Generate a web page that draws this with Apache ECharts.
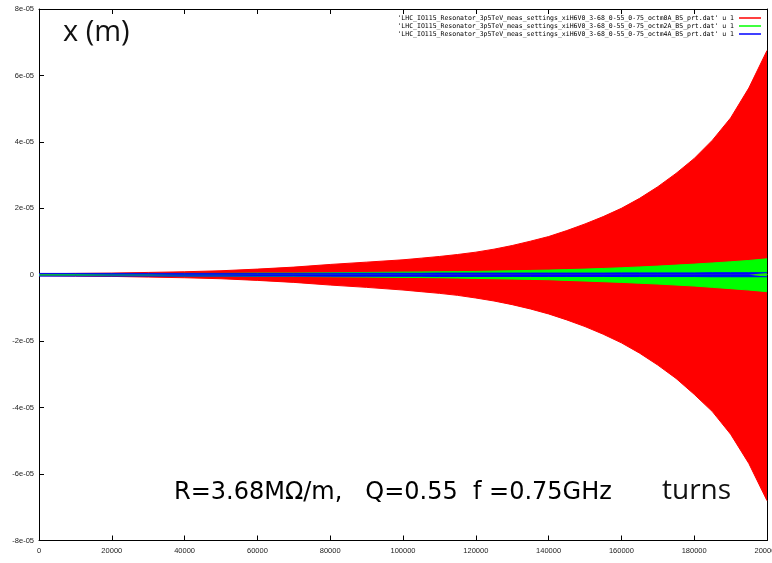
<!DOCTYPE html>
<html>
<head>
<meta charset="utf-8">
<script src="https://cdn.jsdelivr.net/npm/echarts@6/dist/echarts.min.js"></script>
<style>html,body{margin:0;padding:0;background:#fff}#c{width:772px;height:563px}</style>
</head>
<body>
<div id="c"></div>
<script>
// turns (x) and envelope amplitudes in units of 1e-05 m
var turns = [0,10000,20000,30000,40000,50000,60000,70000,80000,90000,100000,105000,110000,115000,120000,125000,130000,135000,140000,145000,150000,155000,160000,165000,170000,175000,180000,185000,190000,195000,200000];
var redUpper  = [0.03,0.04,0.05,0.07,0.09,0.12,0.17,0.23,0.31,0.38,0.45,0.50,0.55,0.61,0.68,0.77,0.88,1.01,1.15,1.33,1.53,1.75,2.0,2.3,2.65,3.05,3.5,4.05,4.72,5.62,6.75];
var redLower  = [-0.03,-0.04,-0.05,-0.07,-0.09,-0.12,-0.17,-0.23,-0.31,-0.38,-0.46,-0.51,-0.56,-0.62,-0.70,-0.79,-0.90,-1.03,-1.18,-1.36,-1.56,-1.79,-2.05,-2.36,-2.72,-3.12,-3.6,-4.12,-4.8,-5.68,-6.8];
var greenUpper = [0.02,0.02,0.03,0.03,0.04,0.04,0.05,0.05,0.06,0.07,0.08,0.085,0.09,0.095,0.10,0.11,0.12,0.13,0.14,0.155,0.17,0.19,0.21,0.235,0.26,0.29,0.32,0.355,0.39,0.43,0.48];
var greenLower = [-0.02,-0.02,-0.03,-0.03,-0.04,-0.04,-0.05,-0.05,-0.06,-0.07,-0.08,-0.085,-0.09,-0.10,-0.11,-0.12,-0.13,-0.14,-0.15,-0.17,-0.19,-0.21,-0.23,-0.255,-0.28,-0.31,-0.34,-0.38,-0.42,-0.46,-0.51];
var blueUpper = [0.04,0.04,0.04,0.04,0.04,0.04,0.04,0.04,0.045,0.045,0.045,0.045,0.05,0.05,0.05,0.05,0.05,0.05,0.05,0.05,0.05,0.05,0.055,0.055,0.055,0.055,0.055,0.06,0.06,0.06,0.06];
var blueLower = [-0.04,-0.04,-0.04,-0.04,-0.04,-0.04,-0.04,-0.04,-0.045,-0.045,-0.045,-0.045,-0.05,-0.05,-0.05,-0.05,-0.05,-0.05,-0.05,-0.05,-0.05,-0.05,-0.055,-0.055,-0.055,-0.055,-0.055,-0.06,-0.06,-0.06,-0.06];
var seriesNames = [
  "'LHC_IO115_Resonator_3p5TeV_meas_settings_xiH6V0_3-68_0-55_0-75_octm0A_BS_prt.dat' u 1",
  "'LHC_IO115_Resonator_3p5TeV_meas_settings_xiH6V0_3-68_0-55_0-75_octm2A_BS_prt.dat' u 1",
  "'LHC_IO115_Resonator_3p5TeV_meas_settings_xiH6V0_3-68_0-55_0-75_octm4A_BS_prt.dat' u 1"
];
var colors = ['#ff0000','#00ff00','#0000ff'];

function pts(arr){ return turns.map(function(t,i){ return [t, arr[i]*1e-5]; }); }
function band(name, color, arr){
  return {type:'line', name:name, data:pts(arr), symbol:'none', showSymbol:false, smooth:false,
    lineStyle:{color:color, width:1}, itemStyle:{color:color},
    areaStyle:{color:color, opacity:1, origin:0}, silent:true, animation:false};
}
function yfmt(v){
  var n = Math.round(v*1e5);
  if (n === 0) return '0';
  return (n<0?'-':'') + Math.abs(n) + 'e-05';
}
function xfmt(v){ return String(Math.round(v)); }
var chart = echarts.init(document.getElementById('c'), null, {renderer:'canvas'});
var labelFont = {fontFamily:'Liberation Sans', fontSize:7.5, color:'#222'};
chart.setOption({
  backgroundColor:'#fff',
  animation:false,
  grid:{left:39, right:5, top:9, bottom:22.5, containLabel:false, outerBoundsMode:'none'},
  legend:{
    data:seriesNames, orient:'vertical', right:6, top:9, align:'right',
    itemWidth:22, itemHeight:1.5, itemGap:0, icon:'rect',
    textStyle:{fontFamily:'DejaVu Sans Mono', fontSize:6.5, color:'#000', lineHeight:8},
    selectedMode:false
  },
  xAxis:[
    {type:'value', min:0, max:200000, interval:20000, position:'bottom',
     axisLine:{onZero:false, lineStyle:{color:'#000', width:1}}, axisTick:{inside:true, length:5, lineStyle:{color:'#000'}},
     axisLabel:Object.assign({margin:6, showMaxLabel:true, formatter:xfmt}, labelFont), splitLine:{show:false}},
    {type:'value', min:0, max:200000, interval:20000, position:'top',
     axisLine:{show:true, onZero:false, lineStyle:{color:'#000', width:1}}, axisTick:{inside:true, length:5, lineStyle:{color:'#000'}},
     axisLabel:{show:false}, splitLine:{show:false}}
  ],
  yAxis:[
    {type:'value', min:-8e-5, max:8e-5, interval:2e-5, position:'left',
     axisLine:{show:true, onZero:false, lineStyle:{color:'#000', width:1}}, axisTick:{show:true, inside:true, length:5, lineStyle:{color:'#000'}},
     axisLabel:Object.assign({margin:5, formatter:yfmt}, labelFont), splitLine:{show:false}},
    {type:'value', min:-8e-5, max:8e-5, interval:2e-5, position:'right',
     axisLine:{show:true, onZero:false, lineStyle:{color:'#000', width:1}}, axisTick:{show:true, inside:true, length:5, lineStyle:{color:'#000'}},
     axisLabel:{show:false}, splitLine:{show:false}}
  ],
  series:[
    band(seriesNames[0], colors[0], redUpper),
    band(seriesNames[0], colors[0], redLower),
    band(seriesNames[1], colors[1], greenUpper),
    band(seriesNames[1], colors[1], greenLower),
    band(seriesNames[2], colors[2], blueUpper),
    band(seriesNames[2], colors[2], blueLower)
  ],
  graphic:[
    {type:'text', left:63, top:18, z:100, style:{text:'x (m)', font:'29px "Open Sans"', fill:'#111'}},
    {type:'text', left:174, top:481, z:100, style:{text:'R=3.68M\u03a9/m,   Q=0.55  f =0.75GHz', font:'24px "DejaVu Sans"', fill:'#000'}},
    {type:'text', left:662, top:477, z:100, style:{text:'turns', font:'28px "Open Sans"', fill:'#111'}}
  ]
});
</script>
</body>
</html>
